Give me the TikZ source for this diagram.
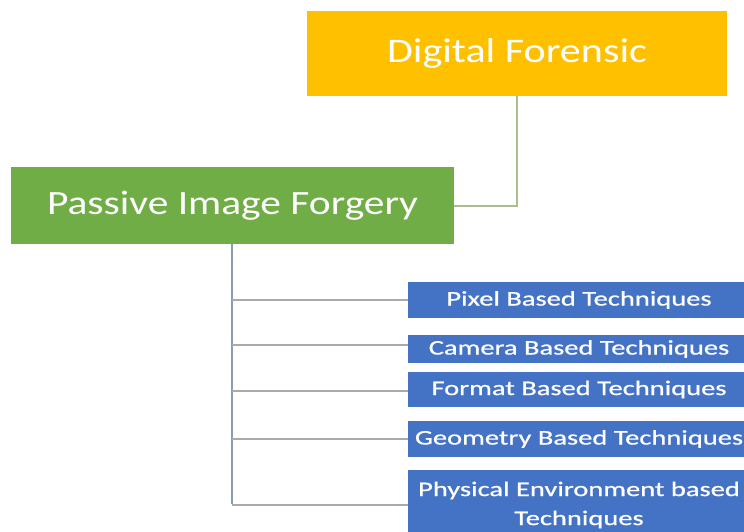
\documentclass[tikz,border=0pt]{standalone}
\usepackage{fontspec}
\setmainfont{Carlito}
\newfontfamily\widefont[FakeStretch=1.22]{Carlito}
\newfontfamily\widerfont[FakeStretch=1.37,FakeBold=0.8]{Carlito}
\definecolor{dfyellow}{HTML}{FFC000}
\definecolor{pgreen}{HTML}{70AD47}
\definecolor{tblue}{HTML}{4472C4}
\definecolor{lgray}{HTML}{A9A9A9}
\definecolor{lgreen}{HTML}{A9C08E}
\definecolor{vblue}{HTML}{8A9BB8}
\begin{document}
\begin{tikzpicture}[x=1pt,y=-1pt,
  box/.style={draw=none,inner sep=0pt,outer sep=0pt,text=white,align=center},
  conn/.style={line width=1.6pt}]
\useasboundingbox (0,0) rectangle (744,531);
\clip (0,0) rectangle (744,531);
\node[box,fill=dfyellow,minimum width=420pt,minimum height=85pt,font=\widefont\fontsize{34.5}{38}\selectfont] (df) at (517,53.5) {Digital Forensic};
\node[box,fill=pgreen,minimum width=443pt,minimum height=77pt,font=\widefont\fontsize{34}{38}\selectfont] (pif) at (232.5,205.5) {Passive Image Forgery};
\tikzset{tech/.style={box,fill=tblue,minimum width=342pt,font=\widerfont\fontsize{20.8}{29}\selectfont}}
\node[tech,minimum height=36pt] (t1) at (579,300) {Pixel Based Techniques};
\node[tech,minimum height=28pt] (t2) at (579,349) {Camera Based Techniques};
\node[tech,minimum height=35pt] (t3) at (579,389.5) {Format Based Techniques};
\node[tech,minimum height=36pt] (t4) at (579,439) {Geometry Based Techniques};
\node[tech,minimum height=70pt] (t5) at (579,505) {Physical Environment based\\Techniques};
\coordinate (jn) at (517,206);
\draw[conn,lgreen] (df.south -| jn) -- (jn) -- (pif.east |- jn);
\coordinate (vb) at (232,503.5);
\draw[conn,vblue] (pif.south -| vb) -- (vb);
\foreach \t/\yy in {t1/300,t2/345,t3/391,t4/439,t5/505}{
  \draw[conn,lgray] (232,\yy) -- (\t.west |- {(0,\yy)});
}
\end{tikzpicture}
\end{document}
